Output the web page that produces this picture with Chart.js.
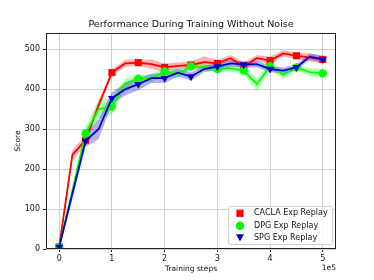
<!DOCTYPE html>
<html>
<head>
<meta charset="utf-8">
<script src="https://cdn.jsdelivr.net/npm/chart.js@4/dist/chart.umd.min.js"></script>
<style>
  body { margin:0; background:#fff; }
  #wrap { width:374px; height:280px; }
</style>
</head>
<body>
<div id="wrap"><canvas id="c" width="374" height="280"></canvas></div>
<script>
// training steps (x values)
const steps = [0,25000,50000,75000,100000,125000,150000,175000,200000,225000,250000,275000,300000,325000,350000,375000,400000,425000,450000,475000,500000];

// CACLA Exp Replay
const caclaMean  = [5,235,272,360,441,464,466,462,454,458,460,467,464,477,457,477,471,489,483,479,474];
const caclaLower = [0,222,260,350,433,455,458,450,444,450,450,452,456,469,447,469,461,481,475,469,464];
const caclaUpper = [10,248,284,370,449,473,474,474,464,466,470,482,472,485,467,485,481,497,491,489,484];

// DPG Exp Replay
const dpgMean  = [5,145,289,350,356,414,426,427,444,437,457,454,450,452,446,412,457,435,454,442,439];
const dpgLower = [0,133,274,325,336,402,418,417,434,427,449,446,442,444,436,395,449,425,446,432,427];
const dpgUpper = [10,157,304,375,376,426,434,437,454,447,465,462,458,460,456,427,465,445,462,452,451];

// SPG Exp Replay
const spgMean  = [5,138,270,300,377,399,412,427,427,441,431,450,456,464,461,462,450,446,454,481,474];
const spgLower = [0,123,255,275,362,384,397,415,415,431,421,442,448,456,453,454,442,438,446,473,466];
const spgUpper = [10,153,285,325,392,414,427,439,439,451,441,458,464,472,469,470,458,454,462,489,482];

const xTicks = [0,1,2,3,4,5];       // in units of 1e5
const yTicks = [0,100,200,300,400,500];
const labels = ['CACLA Exp Replay','DPG Exp Replay','SPG Exp Replay'];

const RED = '#ff0000', GREEN = '#00ff00', BLUE = '#0000cc';
const FONT = '"DejaVu Sans", sans-serif';

function pts(arr){ return steps.map((s,i)=>({x:s, y:arr[i]})); }
function everyOther(r){ return ctx => ctx.dataIndex % 2 === 0 ? r : 0; }

function band(lo, hi, fillCol, ord){
  return [
    {data:pts(lo), borderWidth:0, pointRadius:0, fill:false, order:ord, showLine:true, borderColor:'transparent'},
    {data:pts(hi), borderWidth:0, pointRadius:0, fill:'-1', backgroundColor:fillCol, order:ord, showLine:true, borderColor:'transparent'}
  ];
}
function line(arr, col, style, r, ord, rot){
  return {data:pts(arr), borderColor:col, backgroundColor:col, borderWidth:1.8, fill:false,
    pointStyle:style, pointRadius:everyOther(r), pointHoverRadius:0, pointBorderWidth:0,
    pointRotation:rot||0, order:ord, showLine:true, tension:0};
}

const datasets = [
  line(spgMean, BLUE, 'triangle', 4.6, 0, 180),
  line(dpgMean, GREEN, 'circle', 4.2, 1),
  line(caclaMean, RED, 'rect', 5, 2),
  ...band(spgLower, spgUpper, 'rgba(0,0,204,0.3)', 10),
  ...band(dpgLower, dpgUpper, 'rgba(0,255,0,0.3)', 11),
  ...band(caclaLower, caclaUpper, 'rgba(255,0,0,0.3)', 12)
];

const decor = {
  id:'decor',
  afterDraw(chart){
    const c = chart.ctx, a = chart.chartArea;
    c.save();
    // frame
    c.strokeStyle = '#222'; c.lineWidth = 1;
    c.strokeRect(a.left+0.5, a.top+0.5, a.right-a.left-1, a.bottom-a.top-1);
    // title
    c.fillStyle = '#111'; c.textAlign = 'center'; c.textBaseline = 'middle';
    c.font = '9.5px ' + FONT;
    c.fillText('Performance During Training Without Noise', (a.left+a.right)/2, 25);
    // axis labels
    c.font = '7.5px ' + FONT;
    c.fillText('Training steps', (a.left+a.right)/2, 269);
    c.textAlign = 'right';
    c.fillText('1e5', a.right, 268);
    c.save();
    c.translate(18, (a.top+a.bottom)/2);
    c.rotate(-Math.PI/2);
    c.textAlign = 'center';
    c.fillText('Score', 0, 0);
    c.restore();
    // legend
    const bx = 228, by = 206, bw = 104, bh = 38;
    c.fillStyle = 'rgba(255,255,255,0.85)';
    c.strokeStyle = '#d0d0d0';
    c.beginPath();
    if (c.roundRect) c.roundRect(bx+0.5, by+0.5, bw, bh, 2); else c.rect(bx+0.5, by+0.5, bw, bh);
    c.fill(); c.stroke();
    const rows = [213.3, 225.7, 237.5];
    const mx = 240;
    c.fillStyle = RED; c.fillRect(mx-3.6, rows[0]-3.6, 7.2, 7.2);
    c.fillStyle = GREEN; c.beginPath(); c.arc(mx, rows[1], 4.2, 0, Math.PI*2); c.fill();
    c.fillStyle = BLUE; c.beginPath();
    c.moveTo(mx-4, rows[2]-3.2); c.lineTo(mx+4, rows[2]-3.2); c.lineTo(mx, rows[2]+4); c.closePath(); c.fill();
    c.fillStyle = '#111'; c.textAlign = 'left'; c.font = '8px ' + FONT;
    labels.forEach((t,i)=> c.fillText(t, 254, rows[i]));
    c.restore();
  }
};

new Chart(document.getElementById('c').getContext('2d'), {
  type:'scatter',
  data:{ datasets },
  options:{
    responsive:false, animation:false,
    layout:{ padding:{ left:0, right:38, top:33, bottom:0 } },
    plugins:{ legend:{display:false}, tooltip:{enabled:false}, title:{display:false} },
    scales:{
      x:{
        type:'linear', min:-25000, max:525000,
        afterBuildTicks: s => { s.ticks = xTicks.map(v=>({value:v*1e5})); },
        afterFit: s => { s.height = 31; },
        grid:{ color:'#cfcfcf', lineWidth:1, tickLength:3, tickColor:'#222' },
        border:{ display:false },
        ticks:{ font:{family:FONT, size:8}, color:'#111', padding:2, maxRotation:0,
          callback: v => String(Math.round(v/1e5)) }
      },
      y:{
        min:0, max:540,
        afterBuildTicks: s => { s.ticks = yTicks.map(v=>({value:v})); },
        afterFit: s => { s.width = 46; },
        grid:{ color:'#cfcfcf', lineWidth:1, tickLength:3, tickColor:'#222' },
        border:{ display:false },
        ticks:{ font:{family:FONT, size:8}, color:'#111', padding:3 }
      }
    }
  },
  plugins:[decor]
});
</script>
</body>
</html>
